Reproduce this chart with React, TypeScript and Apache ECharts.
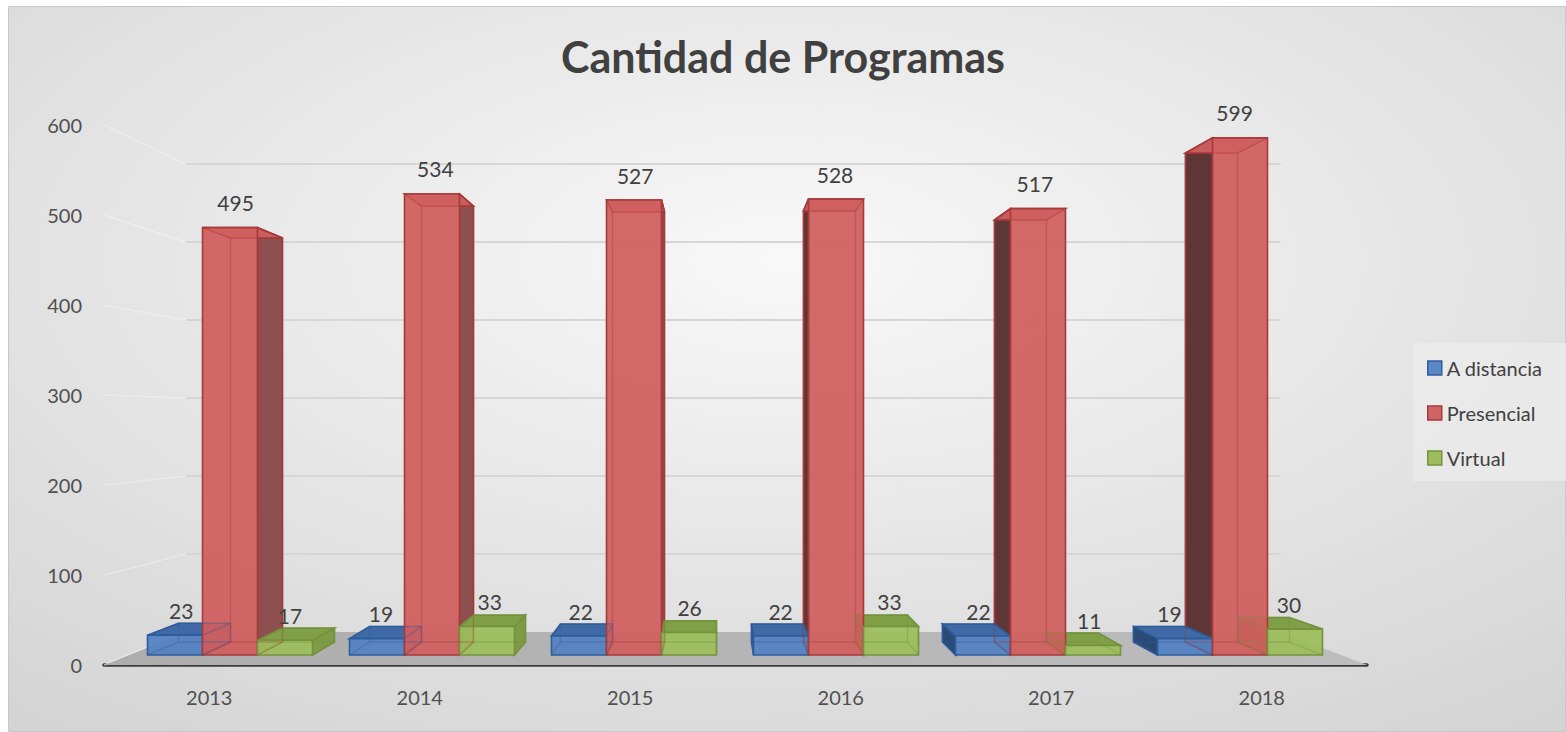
import React, { useEffect, useRef } from "react";
import * as echarts from "echarts";

const YEARS = ["2013", "2014", "2015", "2016", "2017", "2018"];
const A_DISTANCIA = [23, 19, 22, 22, 22, 19];
const PRESENCIAL = [495, 534, 527, 528, 517, 599];
const VIRTUAL = [17, 33, 26, 33, 11, 30];
const GRID_VALUES = [0, 100, 200, 300, 400, 500, 600];

const SERIES_NAMES = ["A distancia", "Presencial", "Virtual"];
const SERIES_DATA = [A_DISTANCIA, PRESENCIAL, VIRTUAL];

// projection constants (page pixels)
const VX = 716;
const VY = 417;
const BAR_D = 0.0545;
const FRONT_D = -0.042;
const BACK_D = 0.0966;
const BAR_FRAC = 55 / 202;
const FONT = "Lato, 'Open Sans', sans-serif";

const PALETTES = [
  { front: "rgba(84,130,196,0.94)", topDark: "#3f6aa6", right: "#41679c", left: "#2b4a75", edge: "#2f5c9a", legend: "#5a87c6" },
  { front: "rgba(207,95,95,0.94)", topDark: "#c25858", right: "#8e4f4f", left: "#5e3636", edge: "#a63a3a", legend: "#d06464" },
  { front: "rgba(156,190,92,0.94)", topDark: "#80a047", right: "#7e9b48", left: "#5a7030", edge: "#76923c", legend: "#9cbd5c" },
];

const proj = (x: number, y: number, d: number) => [x + (VX - x) * d, y + (VY - y) * d];

function boxRenderer(si: number) {
  const pal = PALETTES[si];
  return (params: any, api: any) => {
    const ci = api.value(0);
    const v = api.value(1);
    const top = api.coord([ci, v]);
    const base = api.coord([ci, 0]);
    const bw = api.size([1, 0])[0] * BAR_FRAC;
    const cx = top[0] + (si - 1) * bw;
    const x0 = cx - bw / 2;
    const x1 = cx + bw / 2;
    const yT = top[1];
    const yB = base[1];
    const f = [
      [x0, yB],
      [x1, yB],
      [x1, yT],
      [x0, yT],
    ];
    const b = f.map((p) => proj(p[0], p[1], BAR_D));
    const rightVisible = b[1][0] > x1;
    const children: any[] = [];
    const edgeStyle = { stroke: pal.edge, lineWidth: 1.6 };
    if (rightVisible) {
      children.push({
        type: "polygon",
        z2: 2,
        shape: { points: [f[1], b[1], b[2], f[2]] },
        style: { fill: pal.right, ...edgeStyle },
      });
    } else {
      children.push({
        type: "polygon",
        z2: 2,
        shape: { points: [f[0], b[0], b[3], f[3]] },
        style: { fill: pal.left, ...edgeStyle },
      });
    }
    const fromAbove = yT > VY;
    children.push({
      type: "polygon",
      z2: 2.5,
      shape: { points: [f[3], f[2], b[2], b[3]] },
      style: { fill: fromAbove ? pal.topDark : pal.front, ...edgeStyle },
    });
    children.push({
      type: "polygon",
      z2: 3,
      shape: { points: f },
      style: { fill: pal.front, ...edgeStyle },
    });
    children.push({
      type: "polygon",
      z2: 3.5,
      shape: { points: b },
      style: { fill: "none", stroke: pal.edge, lineWidth: 1.4, opacity: 0.35 },
    });
    for (let i = 0; i < 4; i++) {
      children.push({
        type: "line",
        z2: 3.5,
        shape: { x1: f[i][0], y1: f[i][1], x2: b[i][0], y2: b[i][1] },
        style: { stroke: pal.edge, lineWidth: 1.4, opacity: 0.35 },
      });
    }
    let lx = cx + (b[3][0] - x0) * 0.2;
    if (si === 0) {
      // keep clear of the neighbouring (middle) box's shaded left side
      const sideLeft = x1 + (VX - x1) * BAR_D;
      lx = Math.min(lx, sideLeft - 16);
    }
    children.push({
      type: "text",
      z2: 10,
      style: {
        text: String(v),
        x: lx,
        y: yT - 25,
        align: "center",
        verticalAlign: "middle",
        fontSize: 21,
        fontFamily: FONT,
        fill: "#404040",
      },
    });
    return { type: "group", children };
  };
}

function floorRenderer(params: any, api: any) {
  const cs = params.coordSys;
  const y = api.coord([0, 0])[1];
  const xl = cs.x;
  const xr = cs.x + cs.width;
  return {
    type: "polygon",
    z2: 0,
    shape: {
      points: [proj(xl, y, FRONT_D), proj(xr, y, FRONT_D), proj(xr, y, BACK_D), proj(xl, y, BACK_D)],
    },
    style: {
      fill: {
        type: "linear",
        x: 0,
        y: 0,
        x2: 1,
        y2: 0,
        colorStops: [
          { offset: 0, color: "#adadad" },
          { offset: 1, color: "#bdbdbd" },
        ],
      },
    },
  };
}

function gridRenderer(params: any, api: any) {
  const cs = params.coordSys;
  const v = api.value(0);
  const y = api.coord([0, v])[1];
  const xl = cs.x;
  const xr = cs.x + cs.width;
  const children: any[] = [];
  const a = proj(xl, y, FRONT_D);
  const b = proj(xl, y, BACK_D);
  const c = proj(xr, y, BACK_D);
  children.push({
    type: "line",
    shape: { x1: a[0], y1: a[1], x2: b[0], y2: b[1] },
    style: { stroke: v === 0 ? "rgba(255,255,255,0.7)" : "rgba(255,255,255,0.3)", lineWidth: 1.5 },
  });
  if (v > 0) {
    children.push({
      type: "line",
      shape: { x1: b[0], y1: b[1], x2: c[0], y2: c[1] },
      style: { stroke: "#d6d6d6", lineWidth: 2 },
    });
  }
  return { type: "group", children };
}

export default function App() {
  const ref = useRef<HTMLDivElement>(null);
  useEffect(() => {
    document.body.style.margin = "0";
    const chart = echarts.init(ref.current!, undefined, { renderer: "svg" });
    const option: any = {
      animation: false,
      textStyle: { fontFamily: FONT },
      title: {
        text: "Cantidad de Programas",
        left: "center",
        top: 30,
        textStyle: { fontSize: 43, fontWeight: "bold", color: "#404040", fontFamily: FONT },
      },
      graphic: [
        {
          type: "rect",
          z: -10,
          silent: true,
          shape: { x: 8.5, y: 6.5, width: 1557, height: 725 },
          style: {
            fill: {
              type: "radial",
              x: 0.5,
              y: 0.35,
              r: 1.15,
              colorStops: [
                { offset: 0, color: "#f8f8f8" },
                { offset: 1, color: "#c4c4c4" },
              ],
            },
            stroke: "#c8c8c8",
            lineWidth: 1,
          },
        },
      ],
      legend: {
        orient: "vertical",
        left: 1413,
        top: 343,
        padding: [15, 30, 13, 14],
        itemGap: 25,
        itemWidth: 14,
        itemHeight: 14,
        icon: "rect",
        backgroundColor: "rgba(236,236,236,0.7)",
        textStyle: { fontSize: 20, color: "#404040", fontFamily: FONT },
        data: SERIES_NAMES.map((n, i) => ({
          name: n,
          itemStyle: { color: PALETTES[i].legend, borderColor: PALETTES[i].edge, borderWidth: 1.5 },
        })),
      },
      grid: [
        { left: 104, top: 125, width: 1263, height: 540 },
        { left: 129, top: 137, width: 1212, height: 518 },
      ],
      xAxis: [
        {
          type: "category",
          gridIndex: 0,
          data: YEARS,
          axisLine: { show: true, lineStyle: { color: "#3c3c3c", width: 3.5 } },
          axisTick: { show: false },
          axisLabel: { fontSize: 20, color: "#505050", margin: 22, fontFamily: FONT },
          splitLine: { show: false },
        },
        {
          type: "category",
          gridIndex: 1,
          data: YEARS,
          show: false,
        },
      ],
      yAxis: [
        {
          type: "value",
          gridIndex: 0,
          min: 0,
          max: 600,
          interval: 100,
          axisLine: { show: false },
          axisTick: { show: false },
          splitLine: { show: false },
          axisLabel: { fontSize: 20, color: "#505050", margin: 22, fontFamily: FONT },
        },
        {
          type: "value",
          gridIndex: 1,
          min: 0,
          max: 600,
          interval: 100,
          show: false,
          splitLine: { show: false },
        },
      ],
      series: [
        {
          type: "custom",
          name: "__grid",
          xAxisIndex: 1,
          yAxisIndex: 1,
          z: 1,
          silent: true,
          renderItem: gridRenderer,
          data: GRID_VALUES.map((v) => [v]),
          encode: { y: 0 },
        },
        {
          type: "custom",
          name: "__floor",
          xAxisIndex: 1,
          yAxisIndex: 1,
          z: 1,
          silent: true,
          renderItem: floorRenderer,
          data: [[0, 0]],
        },
        ...SERIES_NAMES.map((name, si) => ({
          type: "custom",
          name,
          xAxisIndex: 1,
          yAxisIndex: 1,
          z: 2,
          silent: true,
          itemStyle: { color: PALETTES[si].legend, borderColor: PALETTES[si].edge },
          renderItem: boxRenderer(si),
          data: SERIES_DATA[si].map((v, i) => [i, v]),
        })),
      ],
    };
    chart.setOption(option);
    return () => chart.dispose();
  }, []);
  return <div ref={ref} style={{ width: 1566, height: 732 }} />;
}
